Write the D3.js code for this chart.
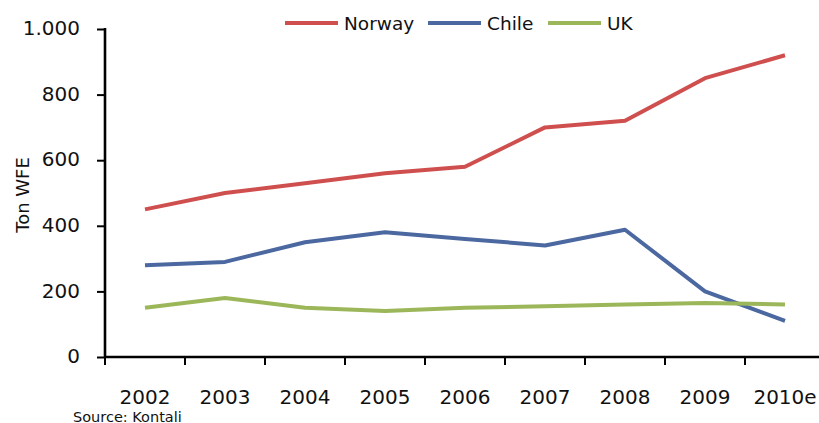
<!DOCTYPE html>
<html>
<head>
<meta charset="utf-8">
<script src="https://cdn.jsdelivr.net/npm/d3@7"></script>
<style>
  body { margin: 0; background: #fff; }
  text { font-family: "DejaVu Sans", sans-serif; fill: #111; }
</style>
</head>
<body>
<svg id="chart" width="819" height="423"></svg>
<script>
const years = ['2002', '2003', '2004', '2005', '2006', '2007', '2008', '2009', '2010e'];
const norway = [450, 500, 530, 560, 580, 700, 720, 850, 920];
const chile = [280, 290, 350, 380, 360, 340, 388, 200, 110];
const uk = [150, 180, 150, 140, 150, 155, 160, 165, 160];
const yTicks = [0, 200, 400, 600, 800, 1000];

const series = [
  { name: 'Norway', values: norway, color: '#CF4F4E' },
  { name: 'Chile', values: chile, color: '#4C68A0' },
  { name: 'UK', values: uk, color: '#9BB75A' },
];

const svg = d3.select('#chart');
const plotLeft = 105, plotRight = 825, plotTop = 29, plotBottom = 357;

const x = d3.scaleBand().domain(years).range([plotLeft, plotRight]).padding(0);
const y = d3.scaleLinear().domain([0, 1000]).range([plotBottom, plotTop]);
const cx = d => x(d) + x.bandwidth() / 2;

// y axis
const yAxis = svg.append('g')
  .attr('transform', `translate(${plotLeft},0)`)
  .call(d3.axisLeft(y).tickValues(yTicks).tickSize(8).tickPadding(17)
    .tickFormat(d => d === 1000 ? '1.000' : d));
yAxis.select('.domain').remove();
yAxis.selectAll('.tick line').attr('stroke', '#000').attr('stroke-width', 2);
yAxis.selectAll('text').style('font-size', '20px').attr('fill', '#111').attr('dy', '0.28em');
svg.append('line')
  .attr('x1', plotLeft).attr('x2', plotLeft).attr('y1', plotTop - 1).attr('y2', plotBottom + 1)
  .attr('stroke', '#000').attr('stroke-width', 2.6);

// x axis
const xAxis = svg.append('g')
  .attr('transform', `translate(0,${plotBottom})`)
  .call(d3.axisBottom(x).tickSize(0).tickPadding(33));
xAxis.select('.domain').remove();
xAxis.selectAll('text').style('font-size', '20px').attr('fill', '#111');
svg.append('g').selectAll('line')
  .data(years)
  .join('line')
  .attr('x1', d => x(d)).attr('x2', d => x(d))
  .attr('y1', plotBottom).attr('y2', plotBottom + 8)
  .attr('stroke', '#000').attr('stroke-width', 2);
svg.append('line')
  .attr('x1', plotLeft - 1).attr('x2', plotRight).attr('y1', plotBottom).attr('y2', plotBottom)
  .attr('stroke', '#000').attr('stroke-width', 2.6);

// lines
const line = d3.line()
  .x((d, i) => cx(years[i]))
  .y(d => y(d));
svg.append('g').selectAll('path')
  .data(series)
  .join('path')
  .attr('d', d => line(d.values))
  .attr('fill', 'none')
  .attr('stroke', d => d.color)
  .attr('stroke-width', 4)
  .attr('stroke-linejoin', 'round');

// legend
const legendX = [285, 428, 548];
const legend = svg.append('g').selectAll('g')
  .data(series)
  .join('g')
  .attr('transform', (d, i) => `translate(${legendX[i]},23)`);
legend.append('line')
  .attr('x1', 0).attr('x2', 53)
  .attr('stroke', d => d.color).attr('stroke-width', 4);
legend.append('text')
  .attr('x', 59).attr('y', 6.5)
  .style('font-size', '18.5px')
  .text(d => d.name);

// y label
svg.append('text')
  .attr('transform', 'translate(29,195) rotate(-90)')
  .attr('text-anchor', 'middle')
  .style('font-size', '18px')
  .text('Ton WFE');

// source
svg.append('text')
  .attr('x', 73).attr('y', 421.5)
  .style('font-size', '14.5px')
  .text('Source: Kontali');
</script>
</body>
</html>
